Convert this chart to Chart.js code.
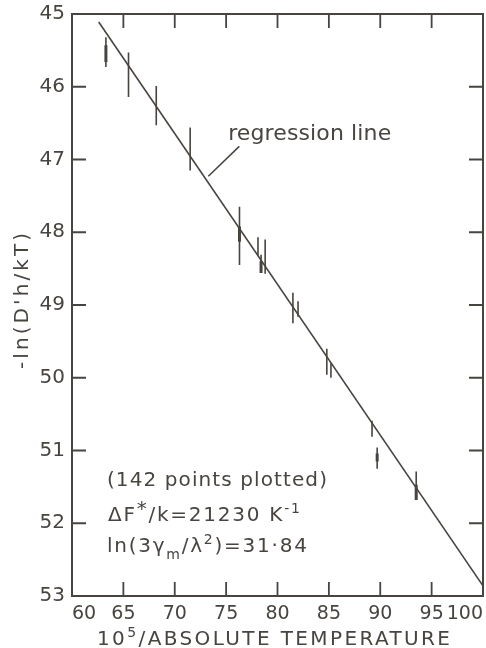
<!DOCTYPE html>
<html>
<head>
<meta charset="utf-8">
<script src="https://cdn.jsdelivr.net/npm/chart.js@4.4.1/dist/chart.umd.min.js"></script>
<style>
  html, body { margin: 0; padding: 0; background: #fff; }
</style>
</head>
<body>
<canvas id="chart" width="486" height="648"></canvas>
<script>
// axis ticks
const xTicks = [60, 65, 70, 75, 80, 85, 90, 95, 100];
const yTicks = [45, 46, 47, 48, 49, 50, 51, 52, 53];

// regression line end points
const lineX = [62.6, 100];
const lineY = [45.11, 52.86];

// vertical bars: position, low end, high end
const barX  = [63.3, 65.5, 68.2, 71.5, 76.3, 78.1, 78.4, 78.8, 81.5, 82.0, 84.8, 85.2, 89.2, 89.7, 93.5];
const barLo = [45.32, 45.53, 45.99, 46.56, 47.65, 48.07, 48.31, 48.10, 48.83, 48.95, 49.60, 49.80, 50.59, 50.96, 51.29];
const barHi = [45.73, 46.14, 46.53, 47.15, 48.45, 48.32, 48.56, 48.57, 49.25, 49.16, 49.96, 50.00, 50.81, 51.25, 51.68];

// darker thick middle of some bars
const coreX  = [63.3, 76.3, 78.4, 89.7, 93.5];
const coreLo = [45.43, 47.92, 48.40, 51.04, 51.47];
const coreHi = [45.66, 48.13, 48.56, 51.15, 51.68];

const ink = '#48443f';
const family = '"DejaVu Sans", sans-serif';

function barPoints(xs, lo, hi) {
    const pts = [];
    xs.forEach((x, i) => {
        pts.push({x: x, y: lo[i]}, {x: x, y: hi[i]}, {x: x, y: null});
    });
    return pts;
}

// draws text made of pieces ('' normal, 'sup', 'sub') spread to a given width
function drawRich(ctx, segs, x, y, size, width, align) {
    const fontFor = k => (k === 'sup' || k === 'sub' ? Math.round(size * 0.72) : size) + 'px ' + family;
    ctx.letterSpacing = '0px';
    let raw = 0, count = 0;
    const widths = segs.map(([t, k]) => {
        ctx.font = fontFor(k);
        const w = ctx.measureText(t).width;
        raw += w;
        count += [...t].length;
        return w;
    });
    const sp = width ? Math.max(0, (width - raw) / Math.max(1, count - 1)) : 0;
    ctx.letterSpacing = sp + 'px';
    let cx = align === 'center' ? x - (raw + sp * (count - 1)) / 2 : x;
    segs.forEach(([t, k], i) => {
        ctx.font = fontFor(k);
        let dy = 0;
        if (k === 'sup') dy = -size * 0.42;
        if (k === 'sub') dy = size * 0.32;
        if (k === 'raise') dy = -size * 0.3;
        ctx.fillText(t, cx, y + dy);
        cx += widths[i] + sp * [...t].length;
    });
    ctx.letterSpacing = '0px';
}

const notes = [
    {x: 63.4, y: 51.49, size: 20, width: 220, segs: [['(142 points plotted)', '']]},
    {x: 63.5, y: 51.97, size: 20, width: 192, segs: [['ΔF', ''], ['*', 'raise'], ['/k=21230 K', ''], ['-1', 'sup']]},
    {x: 63.4, y: 52.40, size: 20, width: 200, segs: [['ln(3γ', ''], ['m', 'sub'], ['/λ', ''], ['2', 'sup'], [')=31·84', '']]}
];

const framePlugin = {
    id: 'frame',
    afterDatasetsDraw(chart) {
        const ctx = chart.ctx;
        const a = chart.chartArea;
        const xs = chart.scales.x, ys = chart.scales.y;
        ctx.save();
        ctx.strokeStyle = ink;
        ctx.fillStyle = ink;
        ctx.lineWidth = 2;
        ctx.strokeRect(a.left, a.top, a.right - a.left, a.bottom - a.top);

        // inward tick marks on all four sides
        ctx.lineWidth = 1.8;
        const len = 14;
        ctx.beginPath();
        xTicks.slice(1, -1).forEach(v => {
            const px = xs.getPixelForValue(v);
            ctx.moveTo(px, a.top); ctx.lineTo(px, a.top + len);
            ctx.moveTo(px, a.bottom); ctx.lineTo(px, a.bottom - len);
        });
        yTicks.slice(1, -1).forEach(v => {
            const py = ys.getPixelForValue(v);
            ctx.moveTo(a.left, py); ctx.lineTo(a.left + len, py);
            ctx.moveTo(a.right, py); ctx.lineTo(a.right - len, py);
        });
        ctx.stroke();

        // "regression line" label and its pointer
        ctx.lineWidth = 1.5;
        ctx.beginPath();
        ctx.moveTo(xs.getPixelForValue(73.27), ys.getPixelForValue(47.23));
        ctx.lineTo(xs.getPixelForValue(76.28), ys.getPixelForValue(46.82));
        ctx.stroke();
        ctx.textBaseline = 'alphabetic';
        ctx.textAlign = 'left';
        drawRich(ctx, [['regression line', '']], xs.getPixelForValue(75.2), ys.getPixelForValue(46.73), 22, 163, 'left');

        notes.forEach(n => {
            drawRich(ctx, n.segs, xs.getPixelForValue(n.x), ys.getPixelForValue(n.y), n.size, n.width, 'left');
        });

        // axis titles
        drawRich(ctx, [['10', ''], ['5', 'sup'], ['/ABSOLUTE TEMPERATURE', '']], (a.left + a.right) / 2 - 4, 645, 20, 353, 'center');
        ctx.translate(23, (a.top + a.bottom) / 2 - 4);
        ctx.rotate(-Math.PI / 2);
        ctx.textBaseline = 'middle';
        drawRich(ctx, [["-ln(D'h/kT)", '']], 0, 0, 20, 136, 'center');
        ctx.restore();
    }
};

const lineStyle = {showLine: true, spanGaps: false, borderColor: ink, pointRadius: 0, fill: false};

new Chart(document.getElementById('chart'), {
    type: 'scatter',
    data: {
        datasets: [
            Object.assign({label: 'regression line', data: lineX.map((x, i) => ({x: x, y: lineY[i]})), borderWidth: 1.6}, lineStyle),
            Object.assign({label: 'bars', data: barPoints(barX, barLo, barHi), borderWidth: 1.6}, lineStyle),
            Object.assign({label: 'bar cores', data: barPoints(coreX, coreLo, coreHi), borderWidth: 3}, lineStyle)
        ]
    },
    options: {
        responsive: false,
        animation: false,
        devicePixelRatio: 1,
        layout: {padding: {top: 14, right: 3, left: 0, bottom: 0}},
        plugins: {legend: {display: false}, tooltip: {enabled: false}},
        scales: {
            x: {
                type: 'linear', min: 60, max: 100,
                afterBuildTicks: s => { s.ticks = xTicks.map(v => ({value: v})); },
                afterFit: s => { s.height = 52; s.paddingLeft = 0; s.paddingRight = 0; },
                grid: {display: false, drawTicks: false},
                border: {display: false},
                ticks: {padding: 7, color: ink, font: {family: family, size: 19}, align: 'inner', maxRotation: 0, autoSkip: false}
            },
            y: {
                type: 'linear', min: 45, max: 53, reverse: true,
                afterBuildTicks: s => { s.ticks = yTicks.map(v => ({value: v})); },
                afterFit: s => { s.width = 72; s.paddingTop = 0; s.paddingBottom = 0; },
                grid: {display: false, drawTicks: false},
                border: {display: false},
                ticks: {padding: 7, color: ink, font: {family: family, size: 20}, autoSkip: false}
            }
        }
    },
    plugins: [framePlugin]
});
</script>
</body>
</html>
